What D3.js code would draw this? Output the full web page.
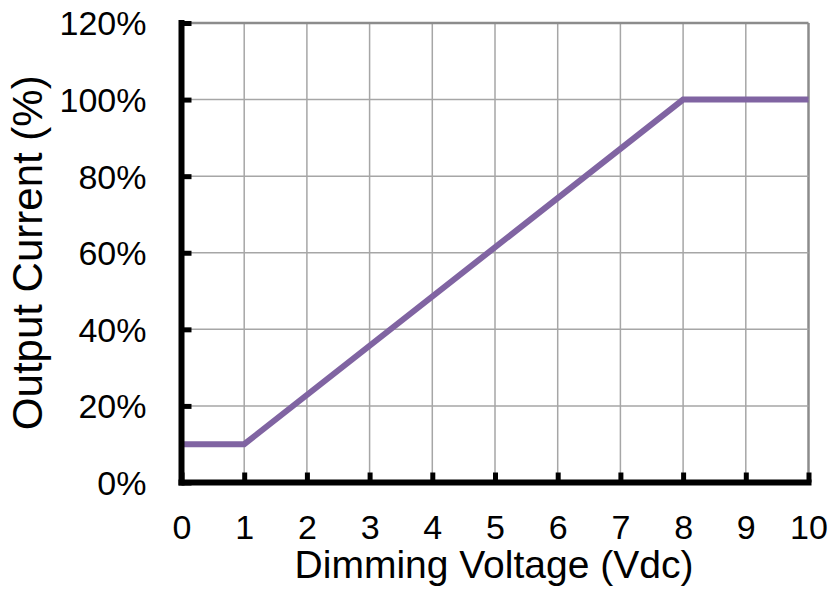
<!DOCTYPE html>
<html>
<head>
<meta charset="utf-8">
<script src="https://cdn.jsdelivr.net/npm/d3@7"></script>
<style>
  body { margin: 0; background: #fff; }
  svg text { font-family: Arial, "Liberation Sans", sans-serif; fill: #000; }
</style>
</head>
<body>
<svg id="chart" width="831" height="600"></svg>
<script>
// dimming curve: voltage (Vdc) vs output current (%)
var voltage = [0, 1, 8, 10]
  , current = [10, 10, 100, 100]
  , xTicks = [0, 1, 2, 3, 4, 5, 6, 7, 8, 9, 10]
  , yTicks = [0, 20, 40, 60, 80, 100, 120];

var svg = d3.select("#chart")
  , mLeft = 181.5, mRight = 808.5, mTop = 23, mBottom = 482.5;

var x = d3.scaleLinear().domain([0, 10]).range([mLeft, mRight])
  , y = d3.scaleLinear().domain([0, 120]).range([mBottom, mTop]);

// grid
var grid = svg.append("g").attr("class", "grid");
grid.selectAll(".vgrid")
  .data(xTicks.filter(function(d){ return d > 0; }))
  .enter().append("line")
  .attr("x1", function(d){ return x(d); })
  .attr("x2", function(d){ return x(d); })
  .attr("y1", y(120)).attr("y2", y(0))
  .attr("stroke", function(d){ return d == 10 ? "#8c8c8c" : "#a6a6a6"; })
  .attr("stroke-width", function(d){ return d == 10 ? 2.5 : 1.5; });
grid.selectAll(".hgrid")
  .data(yTicks.filter(function(d){ return d > 0; }))
  .enter().append("line")
  .attr("x1", x(0)).attr("x2", x(10))
  .attr("y1", function(d){ return y(d); })
  .attr("y2", function(d){ return y(d); })
  .attr("stroke", function(d){ return d == 120 ? "#8c8c8c" : "#a6a6a6"; })
  .attr("stroke-width", function(d){ return d == 120 ? 2.5 : 1.5; });

// the curve
var pts = voltage.map(function(v, i){ return [v, current[i]]; });
svg.append("path")
  .datum(pts)
  .attr("fill", "none")
  .attr("stroke", "#8064a2")
  .attr("stroke-width", 6)
  .attr("stroke-linejoin", "miter")
  .attr("d", d3.line()
    .x(function(d){ return x(d[0]); })
    .y(function(d){ return y(d[1]); }));

// axes, ticks pointing inward
var xAxis = svg.append("g")
  .attr("transform", "translate(0," + mBottom + ")")
  .call(d3.axisBottom(x).tickValues(xTicks).tickSizeInner(-10).tickSizeOuter(0).tickPadding(0));
var yAxis = svg.append("g")
  .attr("transform", "translate(" + mLeft + ",0)")
  .call(d3.axisLeft(y).tickValues(yTicks).tickSizeInner(-10).tickSizeOuter(0).tickPadding(0)
    .tickFormat(function(d){ return d + "%"; }));

[xAxis, yAxis].forEach(function(a){
  a.select(".domain").attr("stroke", "#000").attr("stroke-width", 6);
  a.selectAll(".tick line").attr("stroke", "#000").attr("stroke-width", 5);
  a.selectAll(".tick text").attr("font-size", 34).attr("font-family", null);
});
xAxis.select(".domain").attr("d", "M" + (mLeft - 3) + ",0H" + (mRight + 3));
yAxis.select(".domain").attr("d", "M0," + (mTop - 3) + "V" + (mBottom + 3));
xAxis.selectAll(".tick text").attr("dy", null).attr("y", 56);
yAxis.selectAll(".tick text").attr("x", -35).attr("dy", "0.35em");

// titles
svg.append("text")
  .attr("x", (mLeft + mRight) / 2 - 1).attr("y", 578)
  .attr("text-anchor", "middle")
  .attr("font-size", 39)
  .text("Dimming Voltage (Vdc)");
svg.append("text")
  .attr("transform", "translate(42," + ((mTop + mBottom) / 2) + ") rotate(-90)")
  .attr("text-anchor", "middle")
  .attr("font-size", 42)
  .text("Output Current (%)");
</script>
</body>
</html>
